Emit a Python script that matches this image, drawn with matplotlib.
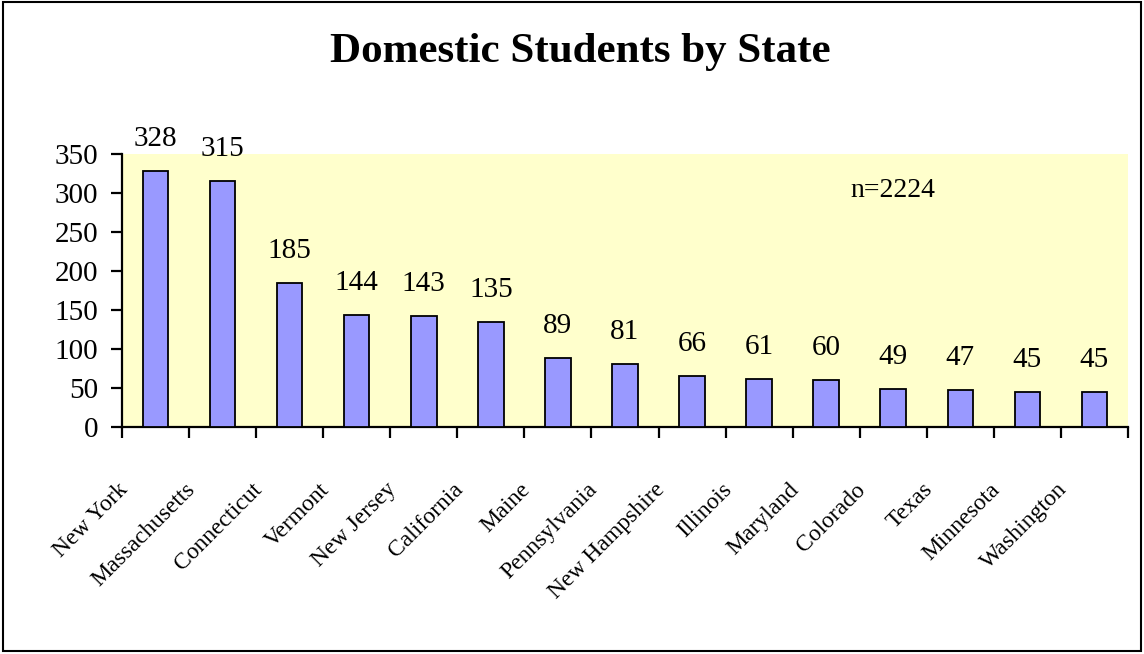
import matplotlib
matplotlib.use("Agg")
import matplotlib.pyplot as plt
import matplotlib.transforms as mtransforms
from matplotlib.patches import Rectangle

states = ["New York", "Massachusetts", "Connecticut", "Vermont", "New Jersey",
          "California", "Maine", "Pennsylvania", "New Hampshire", "Illinois",
          "Maryland", "Colorado", "Texas", "Minnesota", "Washington"]
students = [328, 315, 185, 144, 143, 135, 89, 81, 66, 61, 60, 49, 47, 45, 45]
yticks = [0, 50, 100, 150, 200, 250, 300, 350]
title = "Domestic Students by State"
note = "n=2224"

plt.rcParams['font.family'] = ['Liberation Serif', 'DejaVu Serif']

fig = plt.figure(figsize=(11.44, 6.54), dpi=100)
fig.patches.append(Rectangle((0.003, 0.004), 0.994, 0.993, transform=fig.transFigure,
                             fill=False, edgecolor='black', linewidth=1.5))
ax = fig.add_axes([0.1066, 0.347, 0.8794, 0.4175])
ax.set_facecolor('#FFFFCC')

x = list(range(len(states)))
ax.bar(x, students, width=0.38, color='#9999FF', edgecolor='black', linewidth=1.3, zorder=3)

for xi, v in zip(x, students):
    ax.annotate(str(v), (xi, v), xytext=(0, 18), textcoords='offset points',
                ha='center', va='baseline', fontsize=21)

ax.set_xlim(-0.5, len(states) - 0.5)
ax.set_ylim(0, 350)
ax.set_yticks(yticks)
ax.set_yticklabels([str(t) for t in yticks], fontsize=21)
ax.set_xticks([i - 0.5 for i in range(len(states) + 1)])
ax.set_xticklabels([])

for s in ['top', 'right']:
    ax.spines[s].set_visible(False)
for s in ['left', 'bottom']:
    ax.spines[s].set_linewidth(1.6)
ax.tick_params(axis='both', direction='out', length=8, width=1.6, pad=9)

offset = mtransforms.ScaledTranslation(-38 / 100, -52 / 100, fig.dpi_scale_trans)
trans = mtransforms.blended_transform_factory(ax.transData, ax.transAxes) + offset
for xi, name in zip(x, states):
    ax.text(xi, 0, name, transform=trans, rotation=45, rotation_mode='anchor',
            ha='right', va='top', fontsize=17)

ax.text(0.724, 0.868, note, transform=ax.transAxes, fontsize=20, ha='left', va='center')

fig.text(0.507, 0.92, title, ha='center', va='center', fontsize=31, fontweight='bold')

fig.savefig('out.png', dpi=100)
